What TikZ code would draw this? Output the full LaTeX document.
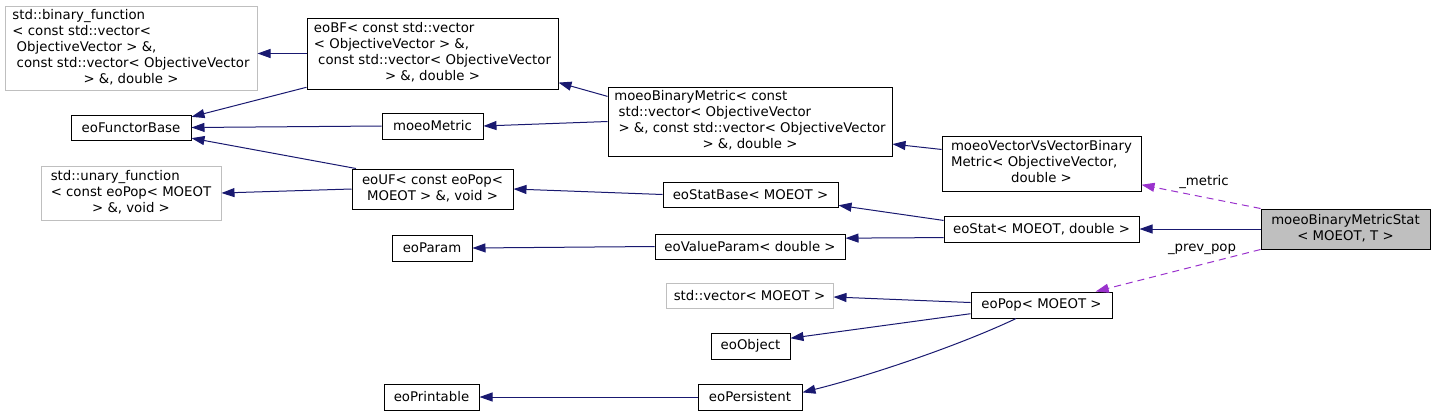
\documentclass[tikz,border=0pt]{standalone}
\usepackage{fontspec}
\setmainfont{DejaVu Sans}
\usetikzlibrary{arrows.meta,calc}
\definecolor{edgeblue}{HTML}{191970}
\definecolor{usepurple}{HTML}{9A32CD}
\definecolor{extgray}{HTML}{BFBFBF}
\newcommand{\dlines}[2]{\begin{tabular}{@{}l@{}}#1\\\multicolumn{1}{@{}c@{}}{#2}\end{tabular}}
\tikzset{
  cls/.style={draw=black,line width=1pt,inner sep=0pt,font=\fontsize{13.3}{16}\selectfont},
  extcls/.style={cls,draw=extgray},
  curcls/.style={cls,fill=extgray},
  sz/.style 2 args={minimum width=#1pt,minimum height=#2pt},
  inherit/.style={-{Triangle[length=13pt,width=9pt]},draw=edgeblue,line width=1pt},
  usage/.style={-{Triangle[length=13pt,width=9pt]},draw=usepurple,line width=1pt,dash pattern=on 7pt off 5pt},
  edgelabel/.style={inner sep=0pt,font=\fontsize{13.3}{16}\selectfont}
}
\begin{document}
\begin{tikzpicture}[x=1pt,y=-1pt]
    \useasboundingbox (0,0) rectangle (1435,416);
    \node[extcls,sz={252}{84}] (binfn) at (131,48) {\dlines{std::binary\_function\\< const std::vector<\\\ ObjectiveVector > \&,\\\ const std::vector< ObjectiveVector}{> \&, double >}};
    \node[cls,sz={251}{71}] (eobf) at (432.5,53.5) {\dlines{eoBF< const std::vector\\< ObjectiveVector > \&,\\\ const std::vector< ObjectiveVector}{> \&, double >}};
    \node[cls,sz={120}{25}] (functorbase) at (131,127.5) {eoFunctorBase};
    \node[cls,sz={101}{26}] (moeometric) at (432.5,126) {moeoMetric};
    \node[extcls,sz={180}{54}] (unaryfn) at (131,193) {\dlines{std::unary\_function\\< const eoPop< MOEOT}{> \&, void >}};
    \node[cls,sz={161}{40}] (eouf) at (432.5,189) {\dlines{eoUF< const eoPop<}{MOEOT > \&, void >}};
    \node[cls,sz={80}{26}] (eoparam) at (432,248) {eoParam};
    \node[cls,sz={95}{26}] (eoprintable) at (431.5,397) {eoPrintable};
    \node[cls,sz={284}{69}] (binmetric) at (750,121.5) {\dlines{moeoBinaryMetric< const\\\ std::vector< ObjectiveVector\\\ > \&, const std::vector< ObjectiveVector}{> \&, double >}};
    \node[cls,sz={175}{25}] (statbase) at (750.5,194.5) {eoStatBase< MOEOT >};
    \node[cls,sz={190}{25}] (valueparam) at (750,246.5) {eoValueParam< double >};
    \node[extcls,sz={167}{25}] (stdvector) at (749.5,295.5) {std::vector< MOEOT >};
    \node[cls,sz={79}{26}] (eoobject) at (750.5,346) {eoObject};
    \node[cls,sz={104}{26}] (eopersistent) at (750,397) {eoPersistent};
    \node[cls,sz={199}{55}] (vecvsvec) at (1041.5,163.5) {\dlines{moeoVectorVsVectorBinary\\Metric< ObjectiveVector,}{double >}};
    \node[cls,sz={195}{26}] (eostat) at (1041.5,229) {eoStat< MOEOT, double >};
    \node[cls,sz={141}{26}] (eopop) at (1041.5,305) {eoPop< MOEOT >};
    \node[curcls,sz={169}{40}] (stat) at (1345.5,229) {\dlines{moeoBinaryMetricStat}{< MOEOT, T >}};
    \draw[inherit] (eobf.west) -- (eobf.west -| binfn.east);
    \draw[inherit] (eobf.-165) -- (functorbase.10);
    \draw[inherit] (moeometric.west) -- (functorbase.east);
    \draw[inherit] (eouf.165) -- (functorbase.-10);
    \draw[inherit] (eouf.west) -- (unaryfn.east);
    \draw[inherit] (binmetric.170) -- (eobf.-13);
    \draw[inherit] (binmetric.west) -- (moeometric.east);
    \draw[inherit] (statbase.west) -- (eouf.east);
    \draw[inherit] (vecvsvec.172) -- (binmetric.-9);
    \draw[inherit] (eostat.175) -- (statbase.-7);
    \draw[inherit] (eostat.185) -- (valueparam.5);
    \draw[inherit] (valueparam.west) -- (eoparam.east);
    \draw[inherit] (stat.west) -- (eostat.east);
    \draw[inherit] (eopop.178) -- (stdvector.-1);
    \draw[inherit] (eopop.187) -- (eoobject.11);
    \draw[inherit] (eopop.-152) .. controls +(-57,27) and +(68,-17) .. (eopersistent.5);
    \draw[inherit] (eopersistent.west) -- (eoprintable.east);
    \draw[usage] (stat.north west) -- (vecvsvec.-12);
    \draw[usage] (stat.south west) -- (eopop.14);
    \node[edgelabel] (metriclbl) at (1204,182) {\_metric};
    \node[edgelabel] (prevpoplbl) at (1202,249) {\_prev\_pop};
\end{tikzpicture}
\end{document}
